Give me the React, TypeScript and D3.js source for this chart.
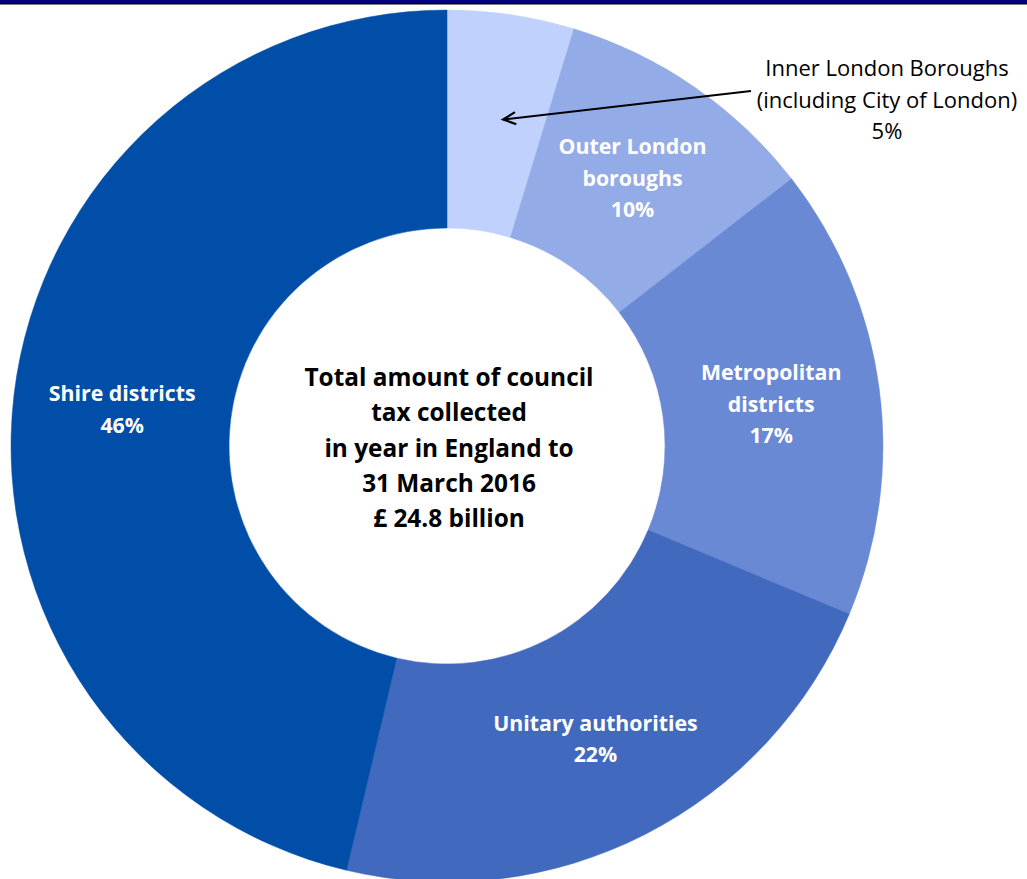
import React from "react";
import * as d3 from "d3";

const categories = [
  "Inner London Boroughs (including City of London)",
  "Outer London boroughs",
  "Metropolitan districts",
  "Unitary authorities",
  "Shire districts",
];
const shares = [4.7, 9.8, 16.8, 22.4, 46.3];
const labelLines = [
  ["Inner London Boroughs", "(including City of London)", "5%"],
  ["Outer London", "boroughs", "10%"],
  ["Metropolitan", "districts", "17%"],
  ["Unitary authorities", "22%"],
  ["Shire districts", "46%"],
];
const colors = ["#BFD1FC", "#93ABE6", "#6A89D5", "#4169BE", "#014EA8"];
const centerLines = [
  "Total amount of council",
  "tax collected",
  "in year in England to",
  "31 March 2016",
  "£ 24.8 billion",
];

const W = 1027;
const H = 879;
const cx = 447;
const cy = 446;
const R = 436;
const r = 218;
const FONT = "'Open Sans', 'Noto Sans', sans-serif";

export default function App() {
  const pie = d3
    .pie<number>()
    .sort(null)
    .value((d) => d)
    .startAngle(0)
    .endAngle(2 * Math.PI);
  const arcs = pie(shares);
  const arc = d3.arc<d3.PieArcDatum<number>>().innerRadius(r).outerRadius(R);
  const labelArc = d3
    .arc<d3.PieArcDatum<number>>()
    .innerRadius(327)
    .outerRadius(327);

  const lh = 31.5;
  const innerCentroid = labelArc.centroid(arcs[0]);
  const tip: [number, number] = [cx + innerCentroid[0] + 8, cy + innerCentroid[1] - 3];
  const tail: [number, number] = [751, 91];
  const ang = Math.atan2(tail[1] - tip[1], tail[0] - tip[0]);
  const ah = 14;
  const spread = 0.45;
  const a1: [number, number] = [tip[0] + ah * Math.cos(ang + spread), tip[1] + ah * Math.sin(ang + spread)];
  const a2: [number, number] = [tip[0] + ah * Math.cos(ang - spread), tip[1] + ah * Math.sin(ang - spread)];

  return (
    <svg
      width={W}
      height={H}
      style={{ position: "absolute", left: 0, top: 0, background: "#fff" }}
    >
      <rect x={0} y={0} width={W} height={3} fill="#000080" />
      <rect x={0} y={3} width={W} height={1.5} fill="#000000" />
      <g transform={`translate(${cx},${cy})`}>
        {arcs.map((a, i) => (
          <path
            key={categories[i]}
            d={arc(a) || ""}
            fill={colors[i]}
            stroke={colors[i]}
            strokeWidth={0.5}
          />
        ))}
        {arcs.map((a, i) => {
          if (i === 0) return null;
          const [x, y] = labelArc.centroid(a);
          const lines = labelLines[i];
          const y0 = y - ((lines.length - 1) * lh) / 2;
          return (
            <text
              key={"l" + i}
              x={x}
              y={y0}
              fill="#ffffff"
              fontFamily={FONT}
              fontWeight={700}
              fontSize={21.3}
              textAnchor="middle"
              dominantBaseline="central"
            >
              {lines.map((t, j) => (
                <tspan key={j} x={x} y={y0 + j * lh}>
                  {t}
                </tspan>
              ))}
            </text>
          );
        })}
        <text
          fill="#000000"
          fontFamily={FONT}
          fontWeight={700}
          fontSize={24.4}
          textAnchor="middle"
          dominantBaseline="central"
        >
          {centerLines.map((t, j) => (
            <tspan key={j} x={2} y={-70 + j * 35.3}>
              {t}
            </tspan>
          ))}
        </text>
      </g>
      <text
        fill="#000000"
        fontFamily={FONT}
        fontSize={22}
        textAnchor="middle"
        dominantBaseline="central"
      >
        {labelLines[0].map((t, j) => (
          <tspan key={j} x={887} y={67 + j * lh}>
            {t}
          </tspan>
        ))}
      </text>
      <line x1={tail[0]} y1={tail[1]} x2={tip[0]} y2={tip[1]} stroke="#000" strokeWidth={2} />
      <polyline
        points={`${a1[0]},${a1[1]} ${tip[0]},${tip[1]} ${a2[0]},${a2[1]}`}
        fill="none"
        stroke="#000"
        strokeWidth={2.2}
      />
    </svg>
  );
}
